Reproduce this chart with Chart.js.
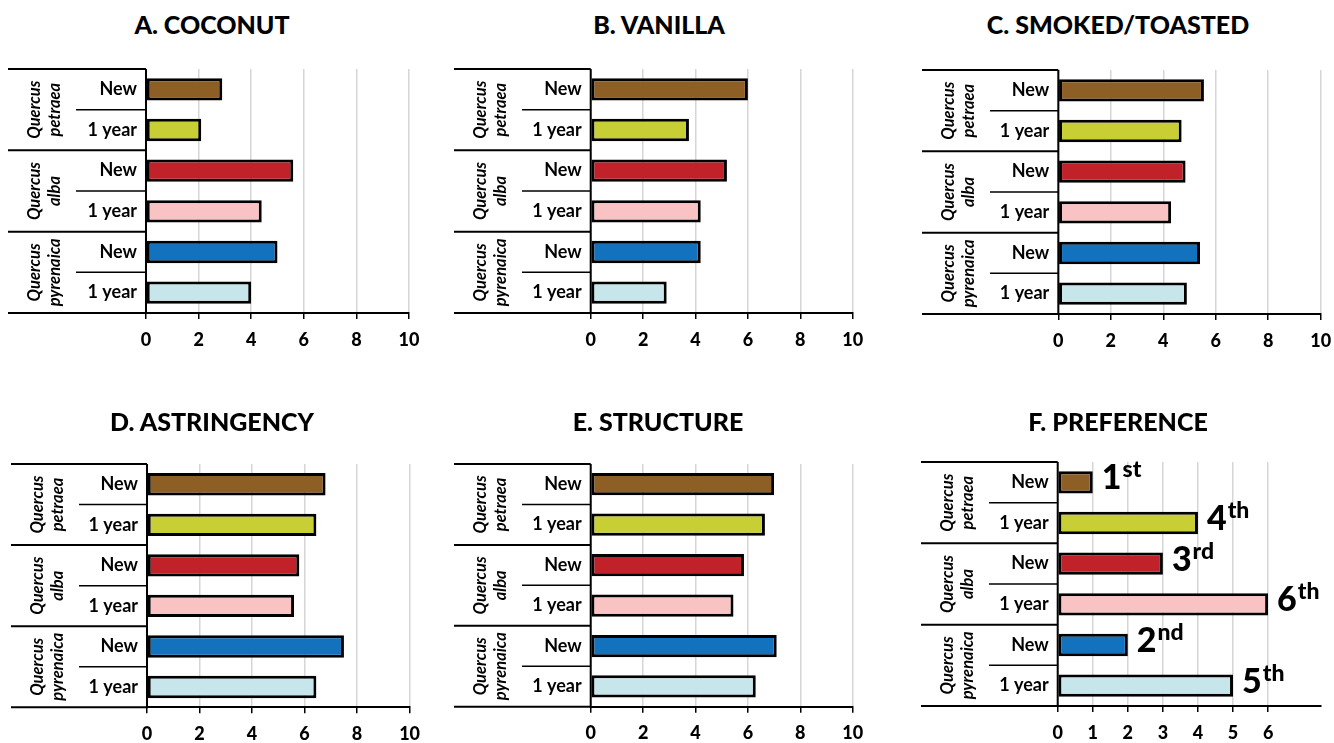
<!DOCTYPE html>
<html>
<head>
<meta charset="utf-8">
<script src="https://cdn.jsdelivr.net/npm/chart.js@4.4.1/dist/chart.umd.min.js"></script>
<style>
  body { margin: 0; background: #fff; width: 1334px; height: 743px; position: relative; overflow: hidden; font-family: Lato, sans-serif; }
  canvas { position: absolute; }
  .title { position: absolute; transform: translate(-50%, -50%); font: 900 25px Lato, sans-serif; white-space: nowrap; color: #000; }
</style>
</head>
<body>
<script>
// categories
const species = ["petraea", "alba", "pyrenaica"];
const ages = ["New", "1 year"];

// series values (order: petraea New, petraea 1 year, alba New, alba 1 year, pyrenaica New, pyrenaica 1 year)
const coconut = [2.9, 2.1, 5.6, 4.4, 5.0, 4.0];
const vanilla = [6.0, 3.75, 5.2, 4.2, 4.2, 2.9];
const smoked = [5.55, 4.7, 4.85, 4.3, 5.4, 4.9];
const astringency = [6.8, 6.45, 5.8, 5.6, 7.5, 6.45];
const structure = [7.0, 6.65, 5.85, 5.45, 7.1, 6.3];
const preference = [1, 4, 3, 6, 2, 5];
const rankNum = ["1", "4", "3", "6", "2", "5"];
const rankSuffix = ["st", "th", "rd", "th", "nd", "th"];

const barColors = ["#8e5f24", "#c8cf34", "#c1222a", "#f8c3c2", "#1272bd", "#c6e6eb"];

const categories = species.flatMap(s => ages.map(a => s + " " + a));

const panels = [
  { title: "A. COCONUT", values: coconut, max: 10, box: 8, left: 146, right: 409, top: 69, bottom: 313, tx: 212, ty: 24 },
  { title: "B. VANILLA", values: vanilla, max: 10, box: 454, left: 590.7, right: 852.7, top: 69, bottom: 313, tx: 659, ty: 24 },
  { title: "C. SMOKED/TOASTED", values: smoked, max: 10, box: 922, left: 1058.3, right: 1320.7, top: 70, bottom: 314, tx: 1118, ty: 24 },
  { title: "D. ASTRINGENCY", values: astringency, max: 10, box: 10.7, left: 146.7, right: 409.3, top: 464, bottom: 707.3, tx: 212, ty: 421 },
  { title: "E. STRUCTURE", values: structure, max: 10, box: 454, left: 590.7, right: 852.7, top: 464, bottom: 706.7, tx: 658, ty: 421 },
  { title: "F. PREFERENCE", values: preference, max: 7.5, tickMax: 6, box: 921, left: 1057.7, right: 1320.7, top: 461.7, bottom: 705.7, tx: 1118, ty: 421, ranks: true }
];

function line(ctx, x1, y1, x2, y2, w) {
  ctx.lineWidth = w;
  ctx.beginPath();
  ctx.moveTo(x1, y1);
  ctx.lineTo(x2, y2);
  ctx.stroke();
}

const groupLabels = {
  id: "groupLabels",
  afterDraw(chart, args, opts) {
    const { ctx, chartArea: a } = chart;
    const y = chart.scales.y;
    const bx = opts.boxLeft;
    const p = i => y.getPixelForValue(i);
    ctx.save();
    ctx.strokeStyle = "#000";
    line(ctx, bx, a.top, a.left, a.top, 2);
    for (let i = 0; i < categories.length - 1; i++) {
      const yy = (p(i) + p(i + 1)) / 2;
      if (i % 2 === 0) line(ctx, bx + 68, yy, a.left, yy, 1.5);
      else line(ctx, bx, yy, a.left, yy, 2);
    }
    line(ctx, bx, a.bottom, a.left, a.bottom, 2);
    line(ctx, a.left, a.top, a.left, a.bottom + 1, 2);

    ctx.fillStyle = "#000";
    ctx.font = "bold 18px Lato";
    ctx.textAlign = "right";
    ctx.textBaseline = "middle";
    categories.forEach((c, i) => ctx.fillText(ages[i % 2], a.left - 9, p(i)));

    ctx.font = "italic bold 16.5px Lato";
    ctx.textAlign = "center";
    species.forEach((s, g) => {
      const cy = (p(2 * g) + p(2 * g + 1)) / 2;
      ctx.save();
      ctx.translate(bx + 27, cy);
      ctx.rotate(-Math.PI / 2);
      ctx.fillText("Quercus", 0, 0);
      ctx.fillText(s, 0, 20);
      ctx.restore();
    });

    if (opts.ranks) {
      const meta = chart.getDatasetMeta(0);
      ctx.textAlign = "left";
      ctx.textBaseline = "alphabetic";
      meta.data.forEach((bar, i) => {
        const x = bar.x + 9;
        ctx.font = "900 34px Lato";
        ctx.fillText(rankNum[i], x, bar.y + 7);
        const w = ctx.measureText(rankNum[i]).width;
        ctx.font = "900 23px Lato";
        ctx.fillText(rankSuffix[i], x + w + 1, bar.y - 5);
      });
    }
    ctx.restore();
  }
};

panels.forEach(pn => {
  const cx = pn.box - 8;
  const cy = pn.top - 30;
  const W = Math.round(pn.right + 30 - cx);
  const H = Math.round(pn.bottom + 40 - cy);
  const canvas = document.createElement("canvas");
  canvas.width = W;
  canvas.height = H;
  canvas.style.left = cx + "px";
  canvas.style.top = cy + "px";
  document.body.appendChild(canvas);

  const t = document.createElement("div");
  t.className = "title";
  t.textContent = pn.title;
  t.style.left = pn.tx + "px";
  t.style.top = pn.ty + "px";
  document.body.appendChild(t);

  const tickMax = pn.tickMax || pn.max;
  new Chart(canvas, {
    type: "bar",
    data: {
      labels: categories,
      datasets: [{
        data: pn.values,
        backgroundColor: barColors,
        borderColor: "#000",
        borderWidth: 3,
        borderSkipped: false,
        barPercentage: 0.55,
        categoryPercentage: 1
      }]
    },
    options: {
      indexAxis: "y",
      responsive: false,
      animation: false,
      events: [],
      layout: {
        padding: {
          left: pn.left - cx,
          right: cx + W - pn.right,
          top: pn.top - cy,
          bottom: H - (pn.bottom - cy) - 34
        }
      },
      plugins: {
        legend: { display: false },
        tooltip: { enabled: false },
        groupLabels: { boxLeft: pn.box - cx, ranks: !!pn.ranks }
      },
      scales: {
        x: {
          min: 0,
          max: pn.max,
          afterFit: s => { s.height = 34; },
          ticks: {
            stepSize: pn.ranks ? 1 : 2,
            color: "#000",
            font: { family: "Lato", size: 18, weight: "900" },
            padding: 10,
            maxRotation: 0,
            callback: v => (v <= tickMax ? v : "")
          },
          grid: {
            color: c => (c.tick && c.tick.value > tickMax ? "rgba(0,0,0,0)" : "#d6d6d6"),
            tickColor: c => (c.tick && c.tick.value > tickMax ? "rgba(0,0,0,0)" : "#000"),
            lineWidth: 1.5,
            tickLength: 6
          },
          border: { color: "#000", width: 2 }
        },
        y: { display: false }
      }
    },
    plugins: [groupLabels]
  });
});
</script>
</body>
</html>
